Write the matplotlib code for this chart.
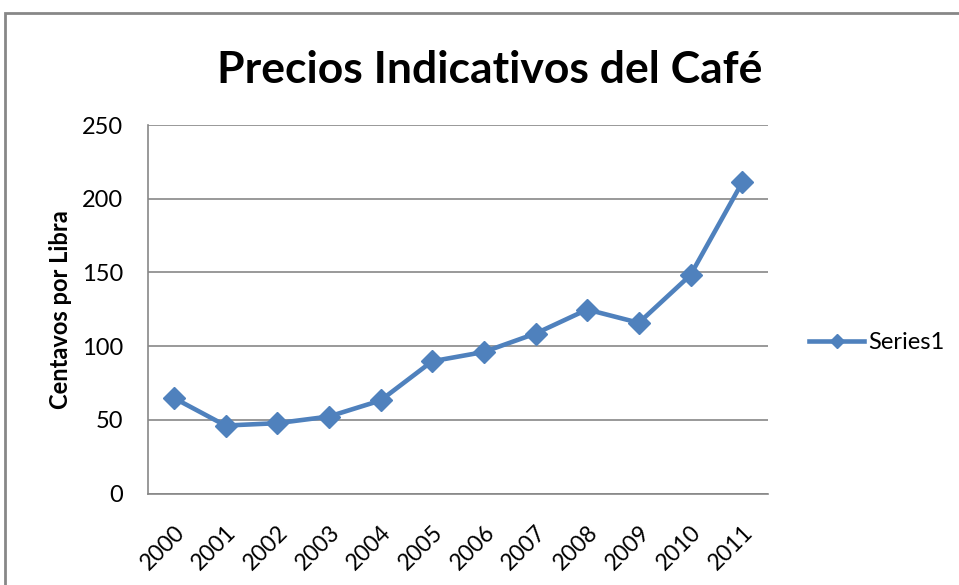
import matplotlib
matplotlib.use("Agg")
import matplotlib.pyplot as plt

# datos
anios = ['2000', '2001', '2002', '2003', '2004', '2005',
         '2006', '2007', '2008', '2009', '2010', '2011']
precios = [64.8, 46.1, 47.7, 52.2, 63.1, 89.7,
           96.0, 108.5, 124.8, 115.8, 148.2, 211.0]

azul = '#4F81BD'
gris = '#878787'

plt.rcParams['font.family'] = ['Lato', 'DejaVu Sans']

fig = plt.figure(figsize=(9.59, 5.85), dpi=100)
ax = fig.add_axes([148 / 959, 91.5 / 585, 620 / 959, 368.5 / 585])

x = list(range(len(anios)))
ax.plot(x, precios, color=azul, linewidth=3.3, marker='D', markersize=11.5,
        label='Series1', zorder=3)

ax.set_xlim(-0.5, len(anios) - 0.5)
ax.set_ylim(0, 250)
ax.set_yticks([0, 50, 100, 150, 200, 250])
ax.set_xticks(x)
ax.set_xticklabels(anios, rotation=45, ha='right', va='top',
                   rotation_mode='anchor', fontsize=16.5)
ax.tick_params(axis='y', labelsize=17, length=0, pad=18)
ax.tick_params(axis='x', length=0, pad=20)

ax.grid(axis='y', color=gris, linewidth=1.2)
ax.set_axisbelow(True)
for s in ['top', 'right']:
    ax.spines[s].set_visible(False)
for s in ['left', 'bottom']:
    ax.spines[s].set_color(gris)
    ax.spines[s].set_linewidth(1.2)

ax.set_ylabel('Centavos por Libra', fontsize=17, fontweight='bold')
ax.yaxis.set_label_coords(-0.1226, 0.498)

fig.text(0.511, 0.881, 'Precios Indicativos del Café', ha='center', va='center',
         fontsize=32, fontweight='bold')

ax.legend(loc='center left', bbox_to_anchor=(1.032, 0.41), frameon=False,
          fontsize=17, handlelength=2.33, handletextpad=0.17, markerscale=0.65)

# borde exterior del grafico
fig.patches.append(plt.Rectangle((5 / 959, -0.1), 1.1, (585 - 13) / 585 + 0.1,
                                 transform=fig.transFigure, fill=False,
                                 edgecolor=gris, linewidth=2))

fig.savefig('out.png', dpi=100)
